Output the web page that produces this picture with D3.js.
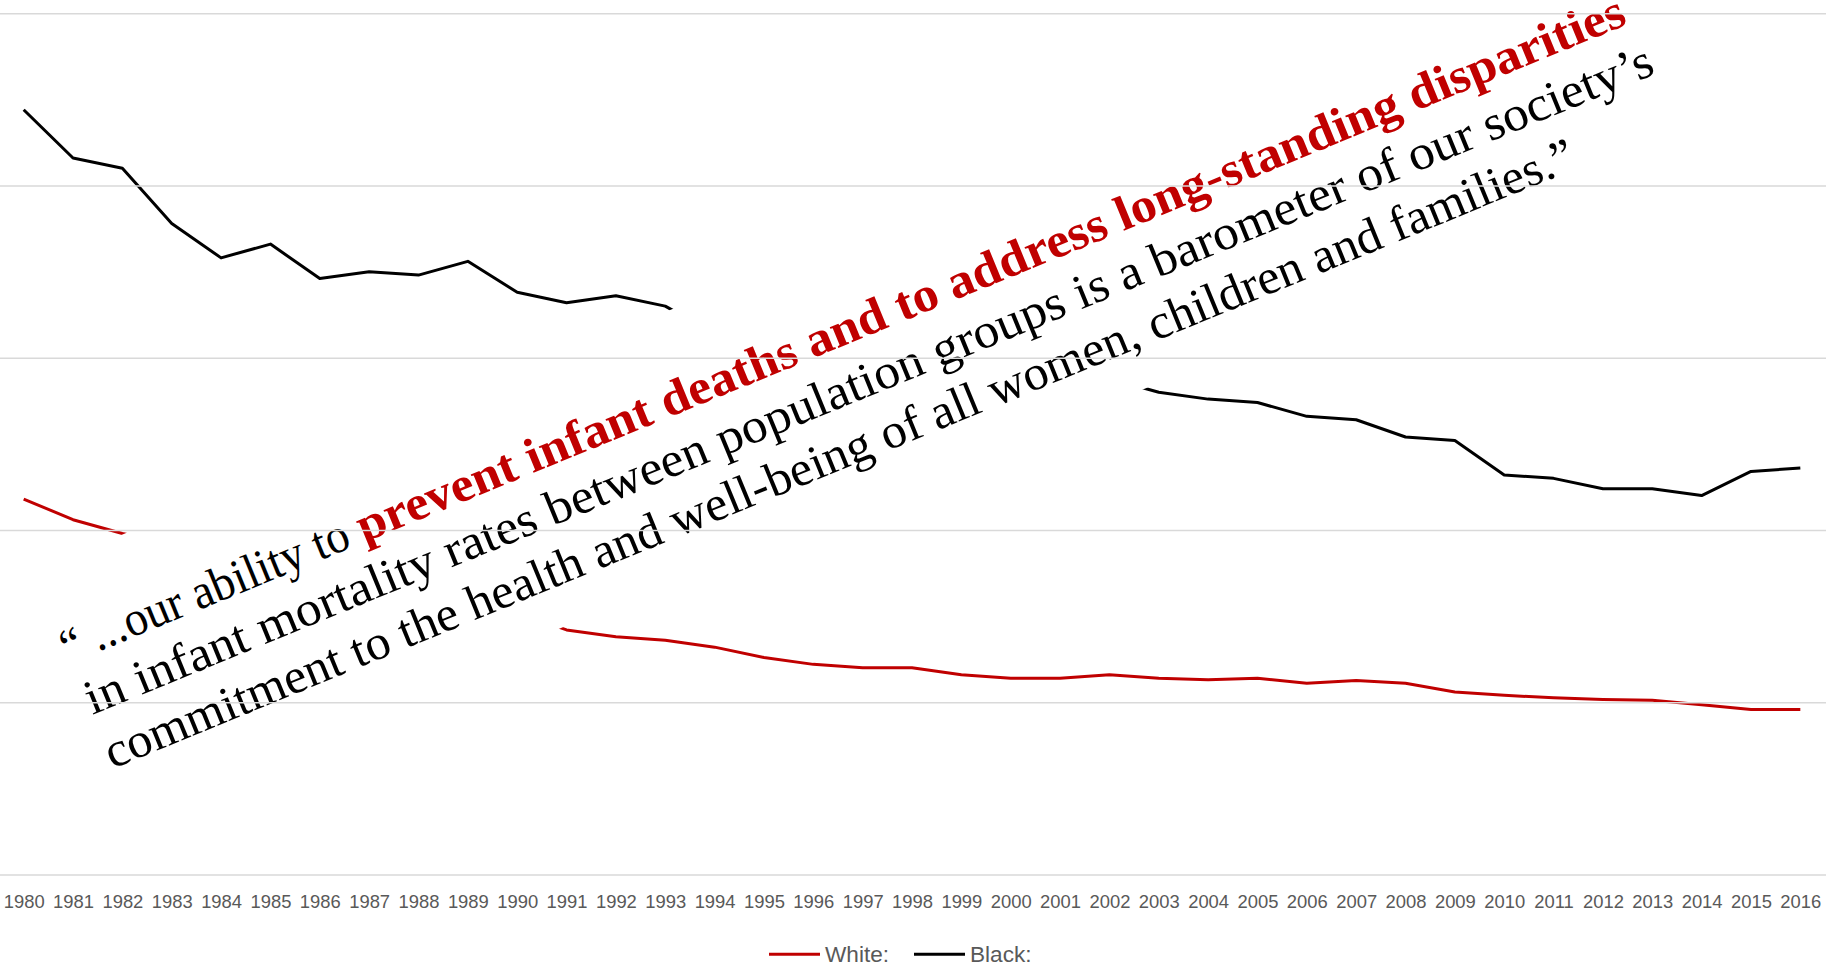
<!DOCTYPE html>
<html>
<head>
<meta charset="utf-8">
<script src="https://cdn.jsdelivr.net/npm/d3@7/dist/d3.min.js"></script>
<style>
  html, body { margin: 0; padding: 0; background: #fff; overflow: hidden; }
</style>
</head>
<body>
<div id="container"></div>
<script>
var width = 1826,
    height = 966;

// infant mortality rate per 1,000 live births
var years = [1980, 1981, 1982, 1983, 1984, 1985, 1986, 1987, 1988, 1989,
             1990, 1991, 1992, 1993, 1994, 1995, 1996, 1997, 1998, 1999,
             2000, 2001, 2002, 2003, 2004, 2005, 2006, 2007, 2008, 2009,
             2010, 2011, 2012, 2013, 2014, 2015, 2016];
var white = [10.9, 10.3, 9.9, 9.6, 9.3, 9.2, 8.8, 8.5, 8.4, 8.1,
             7.6, 7.1, 6.9, 6.8, 6.6, 6.3, 6.1, 6.0, 6.0, 5.8,
             5.7, 5.7, 5.8, 5.7, 5.65, 5.7, 5.55, 5.63, 5.55, 5.3,
             5.2, 5.13, 5.08, 5.06, 4.93, 4.79, 4.79];
var black = [22.2, 20.8, 20.5, 18.9, 17.9, 18.3, 17.3, 17.5, 17.4, 17.8,
             16.9, 16.6, 16.8, 16.5, 15.7, 15.1, 14.7, 14.2, 14.3, 14.6,
             14.1, 14.0, 14.4, 14.0, 13.8, 13.7, 13.3, 13.2, 12.7, 12.6,
             11.6, 11.5, 11.2, 11.2, 11.0, 11.7, 11.8];
var gridValues = [0, 5, 10, 15, 20, 25];
var seriesNames = ["White:", "Black:"];
var seriesColors = ["#c00000", "#000000"];

var quotePlain = "\u201C ...our ability to";
var quoteBold = "prevent infant deaths and to address long-standing disparities";
var quoteLine2 = "in infant mortality rates between population groups is a barometer of our society\u2019s";
var quoteLine3 = "commitment to the health and well-being of all women, children and families.\u201D";

var x = d3.scalePoint().domain(years).range([-1, 1825]).padding(0.5);
var y = d3.scaleLinear().domain([0, 25]).range([874.5, 13.3]);

var svg = d3.select("#container").append("svg")
    .attr("width", width)
    .attr("height", height)
    .style("display", "block");

var line = d3.line()
    .x(function(d, i) { return x(years[i]); })
    .y(function(d) { return y(d); });

// series first, the quote box hides part of them
var series = [white, black];
svg.append("g").selectAll("path")
    .data(series)
    .enter()
    .append("path")
    .attr("d", line)
    .attr("fill", "none")
    .attr("stroke", function(d, i) { return seriesColors[i]; })
    .attr("stroke-width", 3)
    .attr("stroke-linejoin", "round");

// rotated white text box
var angle = -22.3;
var quote = svg.append("g").attr("transform", "rotate(" + angle + ")");
quote.append("rect")
    .attr("x", -220)
    .attr("y", 541)
    .attr("width", 1780)
    .attr("height", 253)
    .attr("fill", "#fff");

// gridlines sit above the lines and the box
var grid = svg.append("g")
    .call(d3.axisLeft(y).tickValues(gridValues).tickSize(-width).tickFormat(""));
grid.select(".domain").remove();
grid.selectAll(".tick line")
    .attr("stroke", "#d9d9d9")
    .attr("stroke-width", 1.6);

// year labels
var xAxis = svg.append("g")
    .attr("transform", "translate(0," + y(0) + ")")
    .call(d3.axisBottom(x).tickSize(0).tickPadding(20.4));
xAxis.select(".domain").remove();
xAxis.selectAll("text")
    .style("font-family", "'Liberation Sans', Arial, sans-serif")
    .style("font-size", "18.4px")
    .attr("fill", "#595959");

// quote text
var qFont = "'Liberation Serif', 'Times New Roman', serif";
var qSize = 49;
function quoteText(txt, px, py, len, bold, col) {
  quote.append("text")
      .attr("x", px)
      .attr("y", py)
      .attr("textLength", len)
      .attr("lengthAdjust", "spacingAndGlyphs")
      .style("font-family", qFont)
      .style("font-size", qSize + "px")
      .style("font-weight", bold ? "bold" : "normal")
      .attr("fill", col)
      .text(txt);
}
quoteText(quotePlain, -189, 640, 308, false, "#000");
quoteText(quoteBold, 131, 640, 1367, true, "#c00000");
quoteText(quoteLine2, -186, 696.5, 1691, false, "#000");
quoteText(quoteLine3, -188, 754, 1585, false, "#000");

// legend
var legendX = [769, 914];
var legend = svg.append("g").selectAll("g")
    .data(seriesNames)
    .enter()
    .append("g")
    .attr("transform", function(d, i) { return "translate(" + legendX[i] + ",954.3)"; });
legend.append("line")
    .attr("x1", 0)
    .attr("x2", 51)
    .attr("stroke", function(d, i) { return seriesColors[i]; })
    .attr("stroke-width", 3);
legend.append("text")
    .attr("x", 56)
    .attr("y", 7.4)
    .style("font-family", "'Liberation Sans', Arial, sans-serif")
    .style("font-size", "22.6px")
    .attr("fill", "#595959")
    .text(function(d) { return d; });
</script>
</body>
</html>
